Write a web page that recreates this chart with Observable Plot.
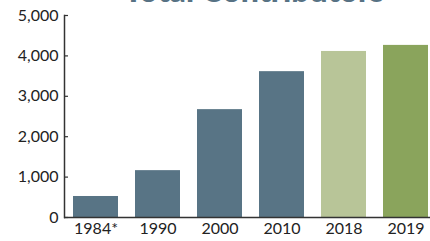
<!DOCTYPE html>
<html>
<head>
<meta charset="utf-8">
<script src="https://cdn.jsdelivr.net/npm/d3@7"></script>
<script src="https://cdn.jsdelivr.net/npm/@observablehq/plot@0.6"></script>
<style>
  html, body { margin: 0; padding: 0; background: #fff; overflow: hidden; }
  #wrap { position: relative; width: 430px; height: 241px; }
  #title { position: absolute; left: 0; width: 508px; text-align: center; top: -29px;
    font-family: Lato, sans-serif; font-weight: 900; font-size: 32px; color: #577284; line-height: 38px; white-space: nowrap; }
  #chart { position: absolute; left: 0; top: 0; }
</style>
</head>
<body>
<div id="wrap">
  <div id="chart"></div>
  <div id="title">Total Contributors</div>
</div>
<script>
const years = ["1984*", "1990", "2000", "2010", "2018", "2019"];
const contributors = [520, 1160, 2670, 3610, 4110, 4260];
const yTicks = [0, 1000, 2000, 3000, 4000, 5000];
const palette = ["#587485", "#587485", "#587485", "#587485", "#b8c598", "#8aa45c"];

const data = years.map((y, i) => ({year: y, value: contributors[i]}));

const chart = Plot.plot({
  width: 430,
  height: 241,
  marginLeft: 64,
  marginRight: 0,
  marginTop: 15,
  marginBottom: 24,
  style: {fontFamily: "Lato, sans-serif", fontSize: "16px", color: "#222", background: "#fff"},
  x: {domain: years, paddingInner: 0.27, paddingOuter: 0, insetLeft: 9, insetRight: 1, label: null},
  y: {domain: [0, 5000], label: null},
  color: {domain: years, range: palette},
  marks: [
    Plot.barY(data, {x: "year", y: "value", fill: "year"}),
    Plot.axisY({ticks: yTicks, tickSize: 0, tickPadding: 6, tickFormat: d3.format(","), fill: "#222", fontSize: 16}),
    Plot.axisY({ticks: yTicks, tickSize: -4, text: null, stroke: "#333", strokeWidth: 1.2}),
    Plot.axisX({tickSize: 0, tickPadding: 5, fill: "#222", fontSize: 16}),
    Plot.ruleY([0], {stroke: "#333", strokeWidth: 1.5}),
    Plot.frame({anchor: "left", stroke: "#333", strokeWidth: 1.5})
  ]
});
document.getElementById("chart").appendChild(chart);
</script>
</body>
</html>
